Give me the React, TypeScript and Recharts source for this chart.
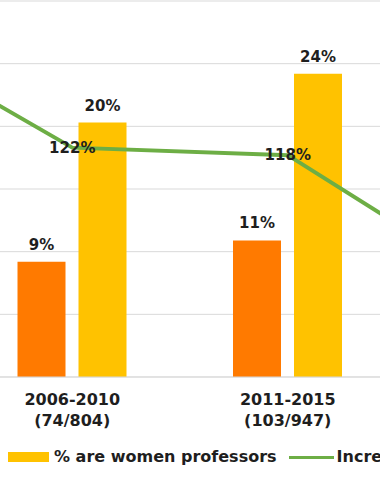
import React from 'react';
import { ComposedChart, Bar, Line, XAxis, YAxis, CartesianGrid, LabelList, Legend } from 'recharts';

// Categories (the outer two periods lie outside the visible crop)
const periods = ['2001-2005', '2006-2010', '2011-2015', '2016-2020'];
const periodCounts = ['', '(74/804)', '(103/947)', ''];
// Series values
const womenShare = [null, 9.2, 10.9, null];          // orange bars (%)
const womenProfessors = [null, 20.3, 24.2, null];    // yellow bars (%)
const increaseValues = [188, 122, 118, 46];          // green line (%)
// Axis ticks
const leftTicks = [0, 5, 10, 15, 20, 25, 30];
const rightTicks = [0, 50, 100, 150, 200];

const seriesNames = {
  women: '% are women',
  professors: '% are women professors',
  increase: 'Increase',
};

const colors = {
  orange: '#FF7A00',
  yellow: '#FFC200',
  green: '#6DAE45',
  grid: '#D9D9D9',
  text: '#1E1E1E',
};

const FONT = '"DejaVu Sans", Verdana, sans-serif';

const data = periods.map((p, i) => ({
  period: p,
  count: periodCounts[i],
  women: womenShare[i],
  professors: womenProfessors[i],
  increase: increaseValues[i],
}));

const CHART_W = 862;
const CHART_H = 478;
const OFFSET_X = -251;

const CategoryTick = (props: any) => {
  const { x, y, payload } = props;
  const idx = periods.indexOf(payload.value);
  const sub = idx >= 0 ? periodCounts[idx] : '';
  return (
    <g>
      <text x={x} y={y + 22} textAnchor="middle" dominantBaseline="central"
        fontFamily={FONT} fontWeight="bold" fontSize={16} fill={colors.text}>
        {payload.value}
      </text>
      {sub ? (
        <text x={x} y={y + 43} textAnchor="middle" dominantBaseline="central"
          fontFamily={FONT} fontWeight="bold" fontSize={16} fill={colors.text}>
          {sub}
        </text>
      ) : null}
    </g>
  );
};

const barLabel = (props: any) => {
  const { x, y, width, value } = props;
  if (value === null || value === undefined) return null;
  return (
    <text x={Number(x) + Number(width) / 2} y={Number(y) - 17} textAnchor="middle"
      dominantBaseline="central" fontFamily={FONT} fontWeight="bold" fontSize={15} fill={colors.text}>
      {Math.round(Number(value))}%
    </text>
  );
};

const lineLabel = (props: any) => {
  const { x, y, value } = props;
  if (value === null || value === undefined) return null;
  return (
    <text x={Number(x)} y={Number(y)} textAnchor="middle" dominantBaseline="central"
      fontFamily={FONT} fontWeight="bold" fontSize={15} fill={colors.text}>
      {Math.round(Number(value))}%
    </text>
  );
};

const textStyle: React.CSSProperties = {
  fontFamily: FONT,
  fontWeight: 'bold',
  fontSize: 16,
  color: colors.text,
  whiteSpace: 'nowrap',
  lineHeight: '20px',
};

const renderLegend = () => (
  <div style={{ position: 'relative', height: 40, width: CHART_W }}>
    <div style={{ position: 'absolute', left: 259, top: 9, height: 20, display: 'flex', alignItems: 'center' }}>
      <div style={{ position: 'absolute', right: '100%', top: 0, height: 20, display: 'flex', alignItems: 'center', paddingRight: 12 }}>
        <div style={{ width: 41, height: 10, background: colors.orange, marginRight: 5 }} />
        <span style={textStyle}>{seriesNames.women}</span>
      </div>
      <div style={{ width: 41, height: 10, background: colors.yellow, marginRight: 5 }} />
      <span style={textStyle}>{seriesNames.professors}</span>
      <div style={{ width: 45, height: 3, background: colors.green, marginLeft: 12, marginRight: 3 }} />
      <span style={textStyle}>{seriesNames.increase}</span>
    </div>
  </div>
);

export default function App() {
  return (
    <div style={{ position: 'fixed', left: 0, top: 0, width: 380, height: 478, overflow: 'hidden', background: '#fff' }}>
      <div style={{ position: 'absolute', left: OFFSET_X, top: 0 }}>
        <ComposedChart width={CHART_W} height={CHART_H} data={data}
          margin={{ top: 1, right: 0, bottom: 0, left: 0 }} barGap={13}>
          <CartesianGrid yAxisId="left" vertical={false} stroke={colors.grid} strokeWidth={1} />
          <XAxis dataKey="period" xAxisId={0} height={61} tickLine={false} tickSize={0} tickMargin={0}
            axisLine={{ stroke: colors.grid }} tick={<CategoryTick />} interval={0} />
          <YAxis yAxisId="left" hide domain={[0, 30]} ticks={leftTicks} />
          <YAxis yAxisId="right" orientation="right" hide domain={[0, 200]} ticks={rightTicks} />
          <Legend verticalAlign="bottom" align="left" content={renderLegend} />
          <Bar yAxisId="left" dataKey="women" name={seriesNames.women} fill={colors.orange}
            barSize={48} isAnimationActive={false}>
            <LabelList dataKey="women" content={barLabel} />
          </Bar>
          <Bar yAxisId="left" dataKey="professors" name={seriesNames.professors} fill={colors.yellow}
            barSize={48} isAnimationActive={false}>
            <LabelList dataKey="professors" content={barLabel} />
          </Bar>
          <Line yAxisId="right" dataKey="increase" name={seriesNames.increase} stroke={colors.green}
            strokeWidth={4} dot={false} activeDot={false} isAnimationActive={false}>
            <LabelList dataKey="increase" content={lineLabel} />
          </Line>
        </ComposedChart>
      </div>
    </div>
  );
}
